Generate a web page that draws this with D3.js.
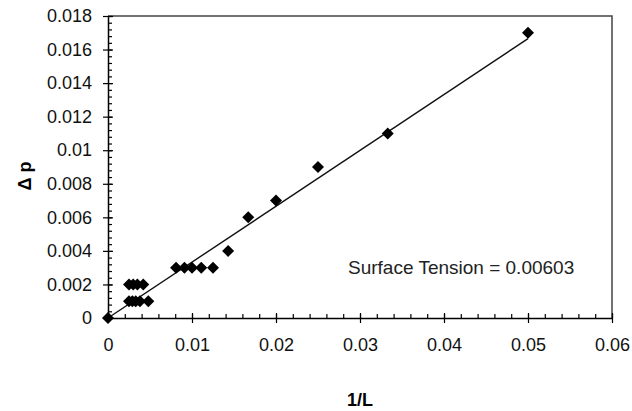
<!DOCTYPE html>
<html>
<head>
<meta charset="utf-8">
<script src="https://cdn.jsdelivr.net/npm/d3@7"></script>
<style>
  body { margin: 0; background: #fff; }
  text { font-family: "Liberation Sans", Arial, sans-serif; }
</style>
</head>
<body>
<div id="chart"></div>
<script>
// data
const invL = [0, 0.0025, 0.0029, 0.0033, 0.0038, 0.0048,
              0.0025, 0.003, 0.0035, 0.0042,
              0.0081, 0.0091, 0.01, 0.0111, 0.0125,
              0.0143, 0.0167, 0.02, 0.025, 0.0333, 0.05];
const deltaP = [0, 0.001, 0.001, 0.001, 0.001, 0.001,
                0.002, 0.002, 0.002, 0.002,
                0.003, 0.003, 0.003, 0.003, 0.003,
                0.004, 0.006, 0.007, 0.009, 0.011, 0.017];
const trendX = [0, 0.05];
const trendSlope = 0.333;
const trendIntercept = 0;
const xTicks = [0, 0.01, 0.02, 0.03, 0.04, 0.05, 0.06];
const yTicks = [0, 0.002, 0.004, 0.006, 0.008, 0.01, 0.012, 0.014, 0.016, 0.018];
const note = "Surface Tension = 0.00603";

const width = 632;
const height = 411;
const margin = {left: 108, right: 20, top: 16, bottom: 93};

const svg = d3.select("#chart")
  .append("svg")
  .attr("width", width)
  .attr("height", height);

const x = d3.scaleLinear()
  .domain([0, 0.06])
  .range([margin.left, width - margin.right]);

const y = d3.scaleLinear()
  .domain([0, 0.018])
  .range([height - margin.bottom, margin.top]);

const fmt = d => String(+d.toFixed(4));

// top / right frame
svg.append("path")
  .attr("d", `M${x(0)},${y(0.018)}H${x(0.06)}V${y(0)}`)
  .attr("fill", "none")
  .attr("stroke", "#444")
  .attr("stroke-width", 1.5);

// minor ticks (inside)
svg.append("g")
  .attr("transform", `translate(0,${y(0)})`)
  .call(d3.axisTop(x).tickValues(d3.range(0, 0.0601, 0.002)).tickSize(4).tickFormat(""))
  .call(g => g.select(".domain").remove());

svg.append("g")
  .attr("transform", `translate(${x(0)},0)`)
  .call(d3.axisRight(y).tickValues(d3.range(0, 0.01801, 0.0004)).tickSize(4).tickFormat(""))
  .call(g => g.select(".domain").remove());

// major axes
const xAxis = svg.append("g")
  .attr("transform", `translate(0,${y(0)})`)
  .call(d3.axisBottom(x).tickValues(xTicks).tickSize(5).tickSizeOuter(0).tickPadding(15).tickFormat(fmt))
  .attr("font-size", "18px");
xAxis.selectAll(".tick line").attr("y1", -5);

const yAxis = svg.append("g")
  .attr("transform", `translate(${x(0)},0)`)
  .call(d3.axisLeft(y).tickValues(yTicks).tickSize(5).tickSizeOuter(0).tickPadding(11).tickFormat(fmt))
  .attr("font-size", "18px");
yAxis.selectAll(".tick line").attr("x1", 5);

svg.selectAll(".domain").attr("stroke-width", 1.5);
svg.selectAll(".tick line").attr("stroke-width", 1.2);
svg.selectAll(".tick text").attr("fill", "#111");

// trend line
svg.append("line")
  .attr("x1", x(trendX[0]))
  .attr("y1", y(trendIntercept + trendSlope * trendX[0]))
  .attr("x2", x(trendX[1]))
  .attr("y2", y(trendIntercept + trendSlope * trendX[1]))
  .attr("stroke", "#111")
  .attr("stroke-width", 1.4);

// diamonds
const diamond = "M0,-6L6,0L0,6L-6,0Z";
svg.selectAll(".pt")
  .data(invL.map((v, i) => ({x: v, y: deltaP[i]})))
  .enter()
  .append("path")
  .attr("class", "pt")
  .attr("d", diamond)
  .attr("transform", d => `translate(${x(d.x)},${y(d.y)})`)
  .attr("fill", "#000");

// labels
svg.append("text")
  .attr("x", (x(0) + x(0.06)) / 2)
  .attr("y", 406)
  .attr("text-anchor", "middle")
  .attr("font-size", "18px")
  .attr("font-weight", "bold")
  .text("1/L");

svg.append("text")
  .attr("transform", `translate(31,176) rotate(-90)`)
  .attr("text-anchor", "middle")
  .attr("font-size", "18px")
  .attr("font-weight", "bold")
  .text("Δ p");

svg.append("text")
  .attr("x", 348)
  .attr("y", 274)
  .attr("font-size", "19px")
  .attr("fill", "#222")
  .text(note);
</script>
</body>
</html>
